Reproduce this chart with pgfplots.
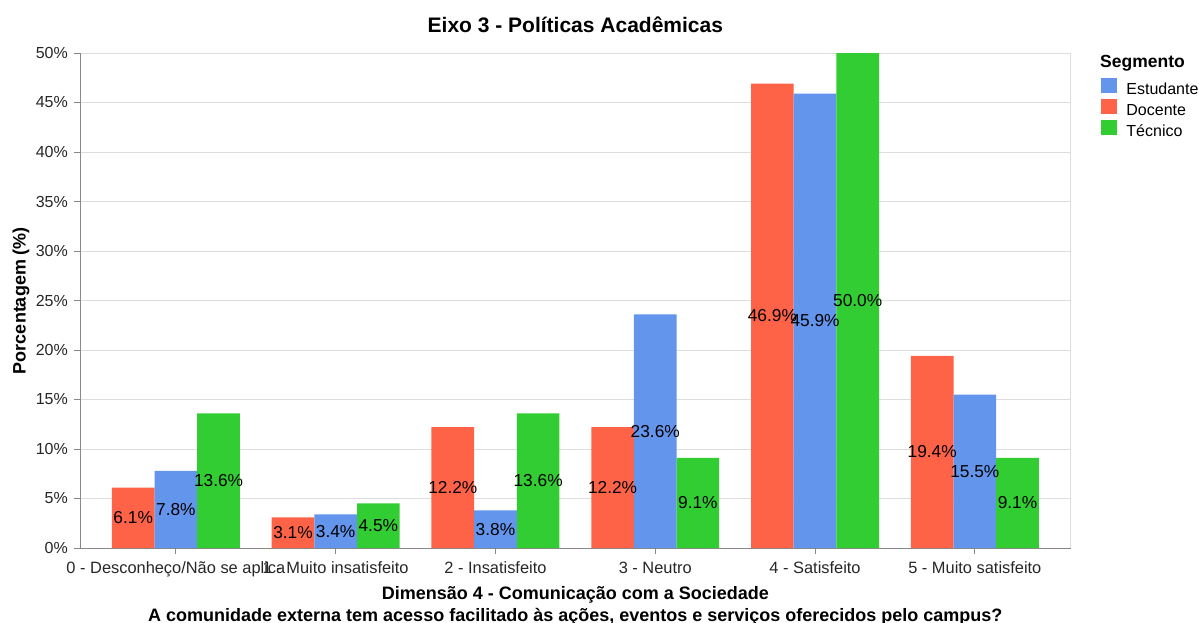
\documentclass[border=0pt]{standalone}
\usepackage{pgfplots}
\pgfplotsset{compat=1.18}
\usepackage{pgfplotstable}
\usepackage{fontspec}
\setmainfont{Liberation Sans}
\definecolor{cred}{HTML}{FF6347}
\definecolor{cblue}{HTML}{6495ED}
\definecolor{cgreen}{HTML}{32CD32}
\definecolor{gridc}{HTML}{DDDDDD}
\definecolor{axisc}{HTML}{888888}

\pgfplotstableread{
x doc est tec
0 6.1 7.8 13.6
1 3.1 3.4 4.5
2 12.2 3.8 13.6
3 12.2 23.6 9.1
4 46.9 45.9 50.0
5 19.4 15.5 9.1
}\data

\begin{document}
\begin{tikzpicture}
\begin{axis}[
  at={(80pt,74pt)}, anchor=south west,
  scale only axis, width=990.7pt, height=495pt,
  set layers, clip mode=individual,
  xmin=-0.6, xmax=5.6, ymin=0, ymax=50,
  axis x line*=bottom, axis y line*=left,
  axis line style={draw=axisc, line width=1pt},
  tick align=outside, major tick length=6pt,
  tick style={draw=axisc, line width=1pt},
  ymajorgrids, grid style={draw=gridc, line width=1pt},
  xtick={0,1,2,3,4,5},
  xticklabels={0 - Desconheço/Não se aplica, 1 - Muito insatisfeito, 2 - Insatisfeito, 3 - Neutro, 4 - Satisfeito, 5 - Muito satisfeito},
  ytick={0,5,10,15,20,25,30,35,40,45,50},
  yticklabels={0\%,5\%,10\%,15\%,20\%,25\%,30\%,35\%,40\%,45\%,50\%},
  extra x ticks={5.6}, extra x tick labels={},
  extra x tick style={xmajorgrids=true, major tick length=0pt},
  tick label style={text=black!85},
  xticklabel style={anchor=north, inner sep=0pt, text height=11pt, text depth=3pt, yshift=-8pt, font=\fontsize{16.4}{19}\selectfont},
  yticklabel style={anchor=east, inner sep=0pt, xshift=-6pt, font=\fontsize{16}{19}\selectfont},
  /pgf/number format/assume math mode=true,
  title={Eixo 3 - Políticas Acadêmicas},
  title style={at={(axis description cs:0.5,1.0293)}, anchor=base, inner sep=0pt, font=\bfseries\fontsize{21}{24}\selectfont},
  ylabel={Porcentagem (\%)},
  every axis y label/.style={at={(axis description cs:-0.0596,0.5)}, rotate=90, anchor=center, inner sep=0pt, font=\bfseries\fontsize{18}{20}\selectfont},
  xlabel={Dimensão 4 - Comunicação com a Sociedade\\A comunidade externa tem acesso facilitado às ações, eventos e serviços oferecidos pelo campus?},
  every axis x label/.style={at={(axis description cs:0.5,-0.0768)}, anchor=north, align=center, inner sep=0pt, font=\bfseries\fontsize{18}{22.5}\selectfont},
  legend style={at={(axis description cs:1.0303,0.9495)}, anchor=north west, draw=none, fill=none, inner sep=0pt, outer sep=0pt,
    row sep=0.7pt, column sep=0pt, font=\fontsize{16}{19}\selectfont,
    nodes={inner sep=0pt, text height=12.5pt, text depth=4pt}},
  legend cell align=left,
  every node near coord/.append style={anchor=center, inner sep=0pt, font=\fontsize{17.3}{20}\selectfont, text=black},
]
\addplot[ybar, bar width=0.267, bar shift=-0.267, fill=cred, draw=none, forget plot] table[x=x,y=doc]{\data};
\addplot[ybar, bar width=0.267, bar shift=0, fill=cblue, draw=none, forget plot] table[x=x,y=est]{\data};
\addplot[ybar, bar width=0.267, bar shift=0.267, fill=cgreen, draw=none, forget plot] table[x=x,y=tec]{\data};

\addplot[draw=none, mark=none, forget plot, point meta=explicit,
  nodes near coords={\pgfmathprintnumber[fixed,fixed zerofill,precision=1]{\pgfplotspointmeta}\%}]
  table[x expr=\thisrow{x}-0.267, y expr=\thisrow{doc}/2, meta=doc]{\data};
\addplot[draw=none, mark=none, forget plot, point meta=explicit,
  nodes near coords={\pgfmathprintnumber[fixed,fixed zerofill,precision=1]{\pgfplotspointmeta}\%}]
  table[x expr=\thisrow{x}, y expr=\thisrow{est}/2, meta=est]{\data};
\addplot[draw=none, mark=none, forget plot, point meta=explicit,
  nodes near coords={\pgfmathprintnumber[fixed,fixed zerofill,precision=1]{\pgfplotspointmeta}\%}]
  table[x expr=\thisrow{x}+0.267, y expr=\thisrow{tec}/2, meta=tec]{\data};

\addlegendimage{legend image code/.code={\fill[cblue] (0pt,-1.5pt) rectangle (15pt,12pt); \path (25.3pt,0pt);}}
\addlegendentry{Estudante}
\addlegendimage{legend image code/.code={\fill[cred] (0pt,-1.5pt) rectangle (15pt,12pt); \path (25.3pt,0pt);}}
\addlegendentry{Docente}
\addlegendimage{legend image code/.code={\fill[cgreen] (0pt,-1.5pt) rectangle (15pt,12pt); \path (25.3pt,0pt);}}
\addlegendentry{Técnico}

\node[anchor=base west, inner sep=0pt, font=\bfseries\fontsize{17.5}{20}\selectfont] at (axis description cs:1.0296,0.9711) {Segmento};
\end{axis}
\pgfresetboundingbox
\path[use as bounding box] (0,0) rectangle (1199pt,622pt);
\end{tikzpicture}
\end{document}
